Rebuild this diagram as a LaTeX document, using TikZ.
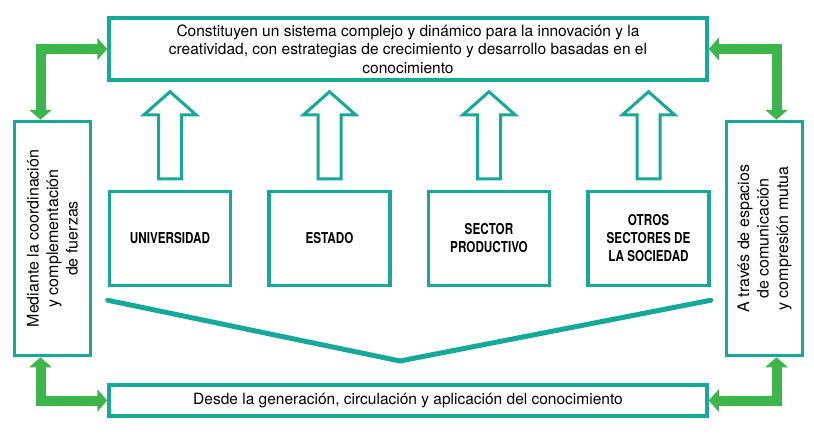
\documentclass[tikz,border=0pt]{standalone}
\usepackage{fontspec}
\setmainfont{TeX Gyre Heros}
\newfontfamily\condfont[FakeStretch=0.78]{TeX Gyre Heros}
\usetikzlibrary{positioning,arrows.meta}

\definecolor{tealline}{RGB}{22,168,152}
\definecolor{arrowgreen}{RGB}{61,181,74}

\begin{document}
\begin{tikzpicture}[
  x=1pt, y=-1pt,
  >={Triangle[length=10pt,width=22pt]},
  every node/.style={align=center, font=\fontsize{15.5}{18.5}\selectfont},
  widebox/.style={draw=tealline, line width=3.5pt, fill=white,
                  minimum width=598pt, inner sep=0pt},
  sidebox/.style={draw=tealline, line width=3.5pt, fill=white,
                  minimum width=76pt, minimum height=234pt},
  sidetext/.style={rotate=90, font=\fontsize{16}{19.5}\selectfont},
  actorbox/.style={draw=tealline, line width=3.5pt, fill=white,
                   minimum width=121pt, minimum height=94pt,
                   font=\condfont\bfseries\fontsize{15}{18}\selectfont},
  hollow/.style={draw=tealline, line width=3pt, fill=white, line join=miter},
  vline/.style={draw=tealline, line width=5pt, line cap=round},
  greenarr/.style={<->, draw=arrowgreen, line width=10pt},
]
\useasboundingbox (0,0) rectangle (814,436);

% --- top and bottom boxes ---
\node[widebox, minimum height=62pt] (topbox) at (408,49) {%
  Constituyen un sistema complejo y dinámico para la innovación y la\\
  creatividad, con estrategias de crecimiento y desarrollo basadas en el\\
  conocimiento};
\node[widebox, minimum height=31pt] (botbox) at (408,400.5) {%
  Desde la generación, circulación y aplicación del conocimiento};

% --- side boxes ---
\node[sidebox] (lbox) at (52.5,238.5) {};
\node[sidetext] (ltext) at (lbox.center) {%
  Mediante la coordinación\\ y complementación\\ de fuerzas};
\node[sidebox] (rbox) at (764.5,238.5) {};
\node[sidetext] (rtext) at (rbox.center) {%
  A través de espacios\\ de comunicación\\ y compresión mutua};

% --- actors row ---
\node[actorbox] (univ) at (170,238.5) {UNIVERSIDAD};
\node[actorbox, right=35pt of univ] (estado) {ESTADO};
\node[actorbox, right=35pt of estado] (sector) {SECTOR\\ PRODUCTIVO};
\node[actorbox, right=35pt of sector] (otros) {OTROS\\ SECTORES DE\\ LA SOCIEDAD};

% hollow arrows pointing up to the top box
\foreach \b in {univ,estado,sector,otros}{
  \begin{scope}[shift={(\b.north)}]
    \draw[hollow] (-11.5,-11) -- (-11.5,-75) -- (-26,-75) -- (0,-98)
      -- (26,-75) -- (11.5,-75) -- (11.5,-11) -- cycle;
  \end{scope}
}

% V line under the actors
\coordinate (vtip) at (400,361);
\draw[vline] ([yshift=-13pt]univ.south west) -- (vtip)
  -- ([yshift=-13pt]otros.south east);

% --- green double arrows ---
\draw[greenarr] ([xshift=-12pt]lbox.north) |- (topbox.west);
\draw[greenarr] ([xshift=12pt]rbox.north) |- (topbox.east);
\draw[greenarr] ([xshift=-12pt]lbox.south) |- (botbox.west);
\draw[greenarr] ([xshift=12pt]rbox.south) |- (botbox.east);

\end{tikzpicture}
\end{document}
